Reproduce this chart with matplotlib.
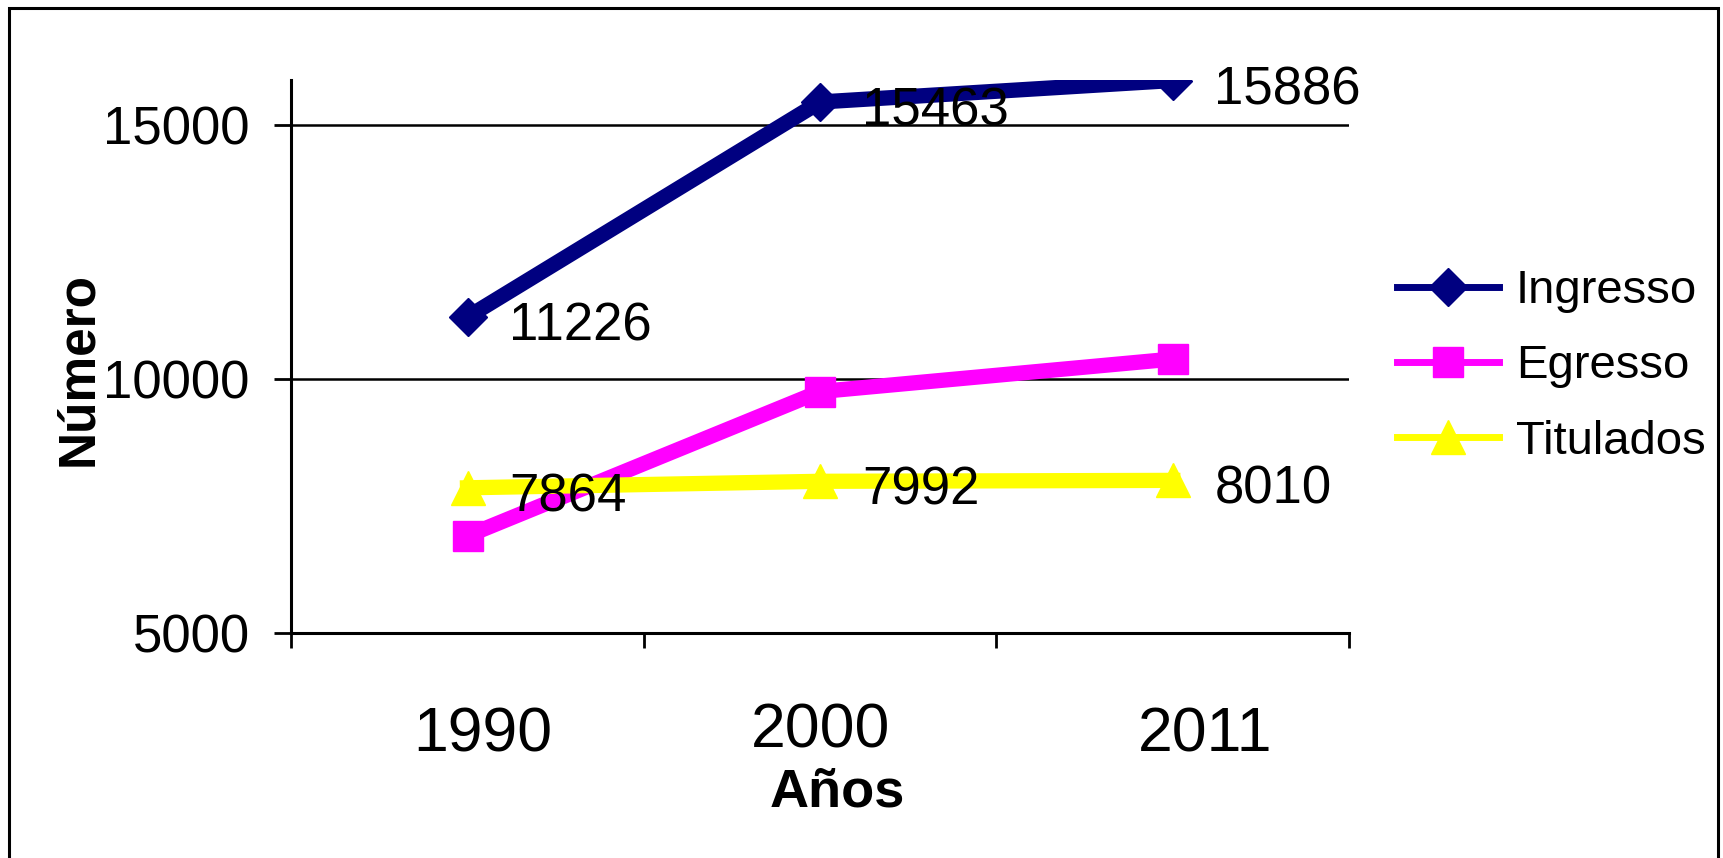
import matplotlib
matplotlib.use("Agg")
import matplotlib.pyplot as plt
import matplotlib.transforms as mtransforms
from matplotlib.patches import Rectangle

plt.rcParams['font.family'] = ['Liberation Sans', 'DejaVu Sans']

# datos
anios = ['1990', '2000', '2011']
ingreso = [11226, 15463, 15886]
egreso = [6920, 9760, 10400]
titulados = [7864, 7992, 8010]
etiquetas_ingreso = ['11226', '15463', '15886']
etiquetas_titulados = ['7864', '7992', '8010']

x = list(range(len(anios)))

fig = plt.figure(figsize=(17.23, 8.58), dpi=100)
ax = fig.add_axes([0.169, 0.262, 0.614, 0.645])

ax.plot(x, ingreso, color='#000080', lw=11, marker='D', ms=19, label='Ingresso', zorder=3)
ax.plot(x, egreso, color='#FF00FF', lw=11, marker='s', ms=22, label='Egresso', zorder=4)
ax.plot(x, titulados, color='#FFFF00', lw=11, marker='^', ms=24, label='Titulados', zorder=5)

# etiquetas de datos
for xi, yi, t in zip(x, ingreso, etiquetas_ingreso):
    ax.annotate(t, (xi, yi), xytext=(30, -17), textcoords='offset points',
                ha='left', va='baseline', fontsize=38, zorder=6)
for xi, yi, t in zip(x, titulados, etiquetas_titulados):
    ax.annotate(t, (xi, yi), xytext=(30, -17), textcoords='offset points',
                ha='left', va='baseline', fontsize=38, zorder=6)

ax.set_xlim(-0.5, 2.5)
ax.set_ylim(5000, 15900)
ax.set_yticks([5000, 10000, 15000])
ax.tick_params(axis='y', labelsize=38, length=12, width=2, pad=18, direction='out')

ax.set_xticks([-0.5, 0.5, 1.5, 2.5])
ax.set_xticklabels([])
ax.set_xticks(x, minor=True)
ax.set_xticklabels(anios, minor=True)
ax.tick_params(axis='x', which='major', length=11, width=2, direction='out')
ax.tick_params(axis='x', which='minor', length=0, labelsize=45, pad=52)

# pequeños desplazamientos de las etiquetas del eje x como en el original
desplaz = [(11, 0), (0, 3), (23, 0)]
for lbl, (dx, dy) in zip(ax.get_xticklabels(minor=True), desplaz):
    lbl.set_transform(lbl.get_transform() +
                      mtransforms.ScaledTranslation(dx / 72, dy / 72, fig.dpi_scale_trans))

ax.yaxis.grid(True, color='black', lw=1.8)
ax.set_axisbelow(True)
for s in ['top', 'right']:
    ax.spines[s].set_visible(False)
for s in ['left', 'bottom']:
    ax.spines[s].set_linewidth(2.2)
    ax.spines[s].set_color('black')

ax.set_xlabel('Años', fontsize=39, fontweight='bold', labelpad=2)
ax.xaxis.label.set_x(0.516)
ax.set_ylabel('Número', fontsize=37, fontweight='bold', labelpad=0)
ax.yaxis.label.set_y(0.478)

leg = fig.legend(loc='center left', bbox_to_anchor=(0.811, 0.573), frameon=False,
                 borderpad=0, borderaxespad=0, handlelength=2.15, handletextpad=0.36,
                 labelspacing=0.66, fontsize=34)
for ln in leg.get_lines():
    ln.set_linewidth(5)

# borde exterior
fig.patches.append(Rectangle((0.0052, -0.02), 0.9919, 1.0107, transform=fig.transFigure,
                             fill=False, lw=2.2, ec='black'))

fig.savefig('out.png', dpi=100)
